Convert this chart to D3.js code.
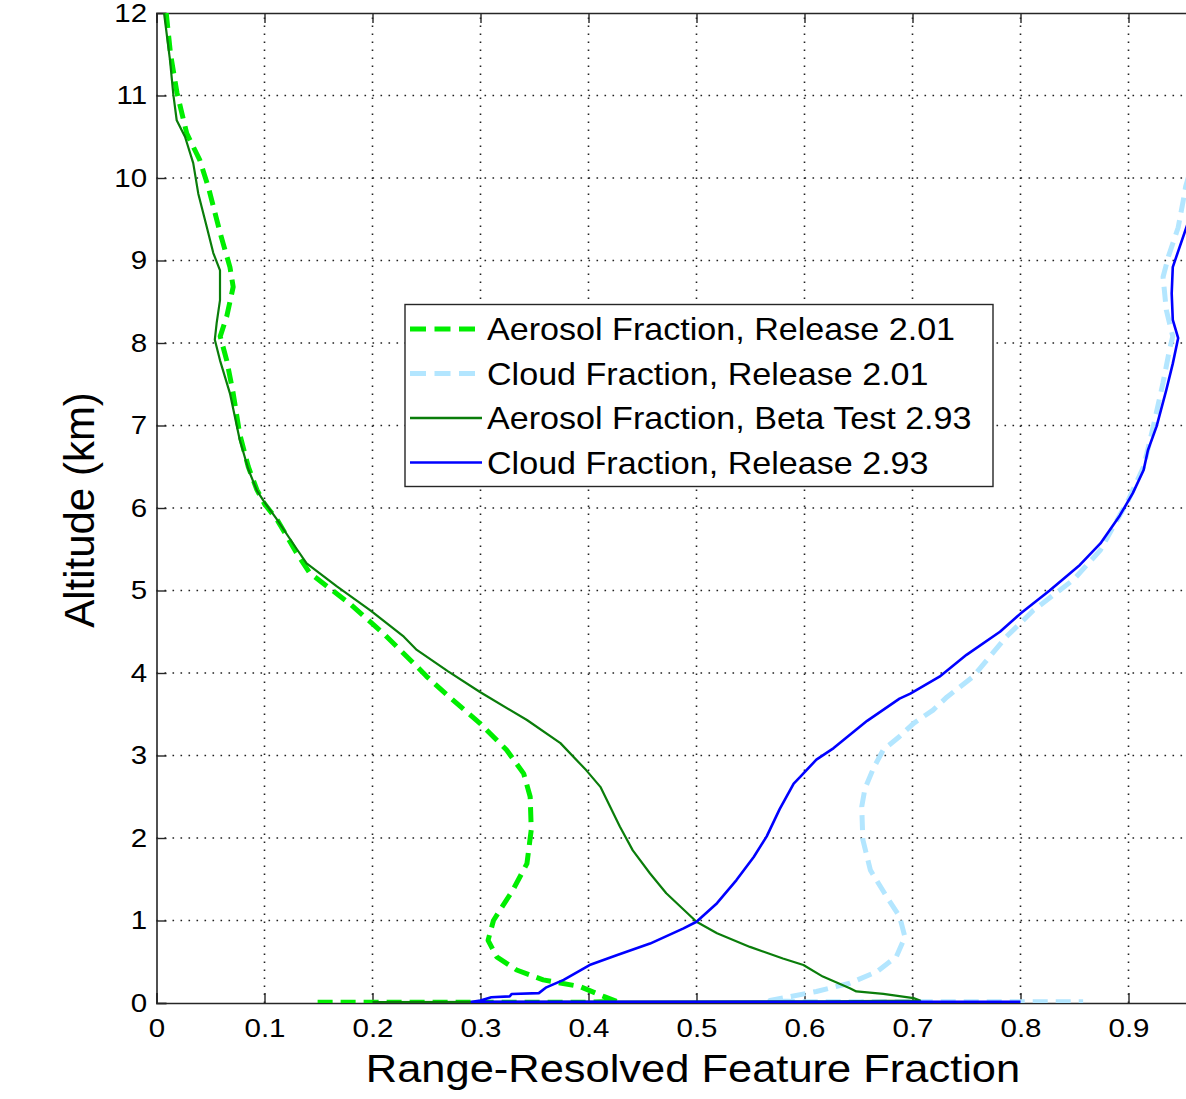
<!DOCTYPE html>
<html>
<head>
<meta charset="utf-8">
<script src="https://cdn.jsdelivr.net/npm/d3@7"></script>
<style>
  body { margin: 0; background: #fff; }
  text { font-family: "Liberation Sans", Arial, sans-serif; fill: #000; }
</style>
</head>
<body>
<div id="chart"></div>
<script>
// profiles as [fraction, altitude km]
var aerosol201 = [[0.009,12.0],[0.013,11.5],[0.019,11.03],[0.028,10.54],[0.040,10.22],[0.048,9.89],[0.059,9.33],
  [0.068,8.92],[0.071,8.68],[0.065,8.32],[0.059,8.08],[0.065,7.79],[0.071,7.39],[0.077,6.9],[0.085,6.5],
  [0.093,6.22],[0.100,6.05],[0.112,5.85],[0.13,5.45],[0.142,5.21],[0.179,4.84],[0.21,4.48],[0.241,4.08],
  [0.250,3.96],[0.272,3.70],[0.2995,3.39],[0.324,3.07],[0.340,2.78],[0.346,2.50],[0.347,2.10],[0.343,1.69],
  [0.330,1.37],[0.312,1.0],[0.307,0.76],[0.315,0.56],[0.3335,0.40],[0.358,0.28],[0.392,0.20],[0.414,0.08],
  [0.426,0.02],[0.40,0.01],[0.145,0.01]];

var cloud201 = [[0.962,10.3],[0.953,9.9],[0.951,9.75],[0.946,9.40],[0.937,9.05],[0.932,8.80],[0.935,8.40],
  [0.941,8.08],[0.938,7.92],[0.932,7.52],[0.923,6.99],[0.914,6.50],[0.90,6.1],[0.885,5.75],[0.874,5.49],
  [0.849,5.13],[0.812,4.76],[0.787,4.44],[0.756,3.955],[0.732,3.71],[0.719,3.55],[0.701,3.39],[0.688,3.23],
  [0.673,3.07],[0.664,2.85],[0.656,2.6],[0.653,2.38],[0.654,1.98],[0.661,1.61],[0.676,1.29],[0.688,1.05],
  [0.693,0.80],[0.685,0.56],[0.667,0.38],[0.642,0.24],[0.611,0.14],[0.58,0.06],[0.568,0.03],[0.60,0.015],
  [0.858,0.015]];

var aerosol293 = [[0.007,12.0],[0.0125,11.43],[0.0156,11.01],[0.0187,10.70],[0.0264,10.50],[0.034,10.18],
  [0.0387,9.81],[0.0465,9.41],[0.0526,9.09],[0.0588,8.88],[0.0588,8.52],[0.0557,8.24],[0.054,8.04],
  [0.0588,7.79],[0.068,7.39],[0.077,6.83],[0.085,6.47],[0.093,6.21],[0.099,6.09],[0.111,5.87],[0.13,5.5],
  [0.139,5.33],[0.167,5.05],[0.198,4.76],[0.229,4.44],[0.241,4.28],[0.270,4.02],[0.2995,3.77],[0.343,3.43],
  [0.374,3.15],[0.398,2.82],[0.411,2.62],[0.429,2.14],[0.441,1.85],[0.457,1.57],[0.472,1.33],[0.5,0.985],
  [0.519,0.845],[0.5495,0.68],[0.58,0.54],[0.599,0.46],[0.617,0.32],[0.642,0.18],[0.648,0.14],[0.673,0.11],
  [0.701,0.06],[0.707,0.03],[0.62,0.02],[0.2,0.01]];

var cloud293 = [[0.97,10.0],[0.953,9.38],[0.947,9.15],[0.941,8.92],[0.940,8.6],[0.941,8.28],[0.946,8.06],
  [0.941,7.75],[0.935,7.43],[0.926,6.99],[0.918,6.70],[0.914,6.46],[0.904,6.18],[0.892,5.91],[0.874,5.57],
  [0.855,5.31],[0.827,5.0],[0.80,4.72],[0.781,4.50],[0.750,4.22],[0.725,3.955],[0.698,3.75],[0.688,3.69],
  [0.658,3.42],[0.627,3.09],[0.611,2.95],[0.596,2.74],[0.59,2.66],[0.577,2.35],[0.565,2.02],[0.553,1.77],
  [0.537,1.49],[0.519,1.21],[0.5,0.985],[0.488,0.905],[0.457,0.72],[0.426,0.58],[0.401,0.46],[0.377,0.28],
  [0.361,0.19],[0.354,0.12],[0.329,0.11],[0.327,0.08],[0.310,0.07],[0.300,0.03],[0.292,0.015],[0.80,0.015]];

var legendLabels = ["Aerosol Fraction, Release 2.01", "Cloud Fraction, Release 2.01",
  "Aerosol Fraction, Beta Test 2.93", "Cloud Fraction, Release 2.93"];
var xTicks = [0, 0.1, 0.2, 0.3, 0.4, 0.5, 0.6, 0.7, 0.8, 0.9];
var yTicks = [0, 1, 2, 3, 4, 5, 6, 7, 8, 9, 10, 11, 12];

var series = [
  { data: aerosol201, color: "#00ee00", width: 5, dash: "15,8" },
  { data: cloud201, color: "#b3e6ff", width: 5, dash: "15,8" },
  { data: aerosol293, color: "#0a7d0a", width: 2.2, dash: null },
  { data: cloud293, color: "#0000ff", width: 2.6, dash: null }
];

var W = 1186, H = 1099;
var x = d3.scaleLinear().domain([0, 1]).range([156.5, 1236.5]);
var y = d3.scaleLinear().domain([0, 12]).range([1003, 13]);
var frame = "#262626";

var svg = d3.select("#chart").append("svg")
  .attr("width", W).attr("height", H);

svg.append("defs").append("clipPath").attr("id", "plotclip")
  .append("rect")
  .attr("x", x(0)).attr("y", y(12))
  .attr("width", x(1) - x(0)).attr("height", y(0) - y(12));

// grid
var grid = svg.append("g").attr("stroke", "#222").attr("stroke-width", 1.6)
  .attr("stroke-dasharray", "1.6,6.4");
grid.selectAll("line.gx").data(xTicks.slice(1)).enter().append("line")
  .attr("x1", function (d) { return x(d); }).attr("x2", function (d) { return x(d); })
  .attr("y1", y(0)).attr("y2", y(12));
grid.selectAll("line.gy").data(yTicks.slice(1, -1)).enter().append("line")
  .attr("y1", function (d) { return y(d); }).attr("y2", function (d) { return y(d); })
  .attr("x1", x(0)).attr("x2", x(1));

// axes
var xAxis = svg.append("g").attr("transform", "translate(0," + y(0) + ")")
  .call(d3.axisBottom(x).tickValues(xTicks).tickSize(-10).tickPadding(16)
    .tickFormat(function (d) { return d === 0 ? "0" : d3.format(".1f")(d); }));
var xTop = svg.append("g").attr("transform", "translate(0," + y(12) + ")")
  .call(d3.axisTop(x).tickValues(xTicks).tickSize(-10).tickFormat(""));
var yAxis = svg.append("g").attr("transform", "translate(" + x(0) + ",0)")
  .call(d3.axisLeft(y).tickValues(yTicks).tickSize(-10).tickPadding(8));

[xAxis, xTop, yAxis].forEach(function (g) {
  g.select(".domain").attr("stroke", frame).attr("stroke-width", 1.6);
  g.selectAll(".tick line").attr("stroke", frame).attr("stroke-width", 1.4);
  g.selectAll(".tick text").attr("font-size", 25).attr("fill", "#000")
    .attr("font-family", "Liberation Sans, Arial, sans-serif");
});
xAxis.selectAll(".tick text").attr("dy", "0.71em").attr("transform", "scale(1.18,1)");
yAxis.selectAll(".tick text").attr("transform", "scale(1.18,1)");

// lines
var line = d3.line()
  .x(function (d) { return x(d[0]); })
  .y(function (d) { return y(d[1]); });

var plot = svg.append("g").attr("clip-path", "url(#plotclip)");
plot.selectAll("path.series").data(series).enter().append("path")
  .attr("class", "series")
  .attr("d", function (d) { return line(d.data); })
  .attr("fill", "none")
  .attr("stroke", function (d) { return d.color; })
  .attr("stroke-width", function (d) { return d.width; })
  .attr("stroke-dasharray", function (d) { return d.dash; })
  .attr("stroke-linejoin", "round");

// legend
var legend = svg.append("g");
legend.append("rect").attr("x", 405).attr("y", 304.5).attr("width", 588).attr("height", 182)
  .attr("fill", "#fff").attr("stroke", frame).attr("stroke-width", 1.4);
var rows = legend.selectAll("g.row").data(series).enter().append("g")
  .attr("transform", function (d, i) { return "translate(0," + (329 + i * 44.5) + ")"; });
rows.append("line").attr("x1", 410).attr("x2", 482).attr("y1", 0).attr("y2", 0)
  .attr("stroke", function (d) { return d.color; })
  .attr("stroke-width", function (d) { return d.dash ? 5 : 2.6; })
  .attr("stroke-dasharray", function (d) { return d.dash ? "16,8.5" : null; });
rows.append("text")
  .attr("transform", "translate(487,0) scale(1.1,1)")
  .attr("dy", "0.36em").attr("font-size", 31)
  .text(function (d, i) { return legendLabels[i]; });

// axis titles
svg.append("text")
  .attr("transform", "translate(693,1082) scale(1.1,1)")
  .attr("text-anchor", "middle").attr("font-size", 39.5)
  .text("Range-Resolved Feature Fraction");
svg.append("text")
  .attr("transform", "translate(94,510) rotate(-90)")
  .attr("text-anchor", "middle").attr("font-size", 42)
  .text("Altitude (km)");
</script>
</body>
</html>
